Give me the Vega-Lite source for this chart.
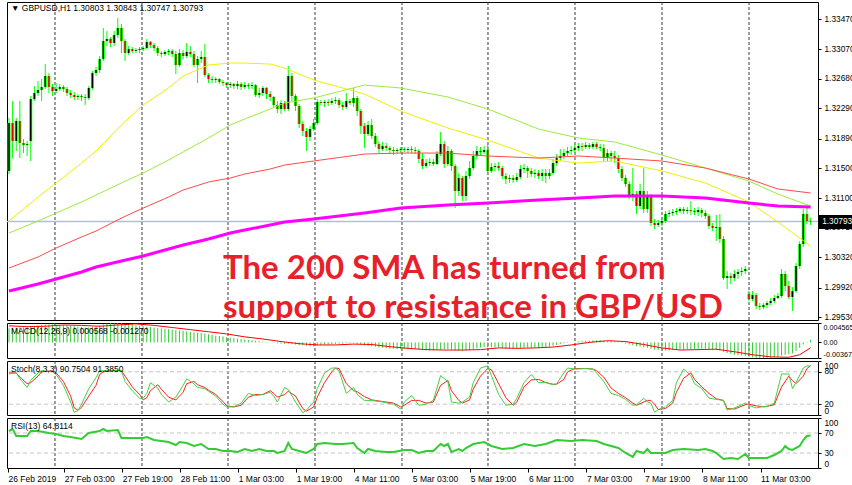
{
"$schema": "https://vega.github.io/schema/vega-lite/v6.json",
"background": "#ffffff",
"padding": {"left": 2, "top": 1, "right": 8, "bottom": 0},
"bounds": "flush",
"spacing": 3,
"resolve": {"scale": {"x": "independent", "y": "independent"}},
"config": {
"view": {"stroke": "#000000", "strokeWidth": 1},
"axis": {"domain": false, "grid": false, "labelFont": "Liberation Sans", "labelFontSize": 8.3, "labelColor": "#000000", "tickColor": "#000000", "tickSize": 3, "labelPadding": 3, "labelOverlap": false},
"text": {"font": "Liberation Sans", "fontSize": 8.5, "color": "#000000"}
},
"datasets": {
"grid": [{"i":12.68},{"i":36.67},{"i":60.38},{"i":84.37},{"i":108.35},{"i":132.06},{"i":156.05},{"i":180.04},{"i":204.03}],
"bars": [
{"i":0,"o":1.31461,"h":1.32161,"l":1.31421,"c":1.32095,"m":0.0033},
{"i":1,"o":1.32095,"h":1.32386,"l":1.31632,"c":1.31857,"m":0.0034},
{"i":2,"o":1.31857,"h":1.32161,"l":1.31725,"c":1.32122,"m":0.0034},
{"i":3,"o":1.32122,"h":1.32386,"l":1.31632,"c":1.31831,"m":0.0035},
{"i":4,"o":1.31831,"h":1.31884,"l":1.31698,"c":1.31804,"m":0.0035},
{"i":5,"o":1.31804,"h":1.31857,"l":1.31659,"c":1.31817,"m":0.0035},
{"i":6,"o":1.31857,"h":1.32452,"l":1.31593,"c":1.32412,"m":0.0037},
{"i":7,"o":1.32412,"h":1.32584,"l":1.32386,"c":1.32492,"m":0.0039},
{"i":8,"o":1.32492,"h":1.32650,"l":1.32452,"c":1.32531,"m":0.0040},
{"i":9,"o":1.32531,"h":1.32677,"l":1.32386,"c":1.32571,"m":0.0041},
{"i":10,"o":1.32571,"h":1.32875,"l":1.32545,"c":1.32716,"m":0.0042},
{"i":11,"o":1.32716,"h":1.32756,"l":1.32492,"c":1.32571,"m":0.0042},
{"i":12,"o":1.32571,"h":1.32611,"l":1.32452,"c":1.32518,"m":0.0042},
{"i":13,"o":1.32518,"h":1.32624,"l":1.32492,"c":1.32545,"m":0.0042},
{"i":14,"o":1.32545,"h":1.32611,"l":1.32518,"c":1.32571,"m":0.0041},
{"i":15,"o":1.32571,"h":1.32597,"l":1.32505,"c":1.32545,"m":0.0041},
{"i":16,"o":1.32545,"h":1.32571,"l":1.32452,"c":1.32492,"m":0.0040},
{"i":17,"o":1.32492,"h":1.32531,"l":1.32426,"c":1.32465,"m":0.0039},
{"i":18,"o":1.32465,"h":1.32505,"l":1.32399,"c":1.32439,"m":0.0038},
{"i":19,"o":1.32439,"h":1.32479,"l":1.32399,"c":1.32452,"m":0.0037},
{"i":20,"o":1.32452,"h":1.32479,"l":1.32386,"c":1.32439,"m":0.0036},
{"i":21,"o":1.32439,"h":1.32479,"l":1.32333,"c":1.32426,"m":0.0035},
{"i":22,"o":1.32426,"h":1.32584,"l":1.32399,"c":1.32558,"m":0.0035},
{"i":23,"o":1.32558,"h":1.32783,"l":1.32531,"c":1.32756,"m":0.0036},
{"i":24,"o":1.32756,"h":1.32835,"l":1.32716,"c":1.32796,"m":0.0038},
{"i":25,"o":1.32796,"h":1.32981,"l":1.32756,"c":1.32941,"m":0.0040},
{"i":26,"o":1.32941,"h":1.33351,"l":1.32915,"c":1.33179,"m":0.0042},
{"i":27,"o":1.33179,"h":1.33311,"l":1.33113,"c":1.33206,"m":0.0044},
{"i":28,"o":1.33206,"h":1.33232,"l":1.33100,"c":1.33153,"m":0.0045},
{"i":29,"o":1.33153,"h":1.33311,"l":1.33113,"c":1.33259,"m":0.0045},
{"i":30,"o":1.33259,"h":1.33483,"l":1.33219,"c":1.33351,"m":0.00456},
{"i":31,"o":1.33351,"h":1.33404,"l":1.33021,"c":1.33179,"m":0.0045},
{"i":32,"o":1.33179,"h":1.33206,"l":1.32915,"c":1.33021,"m":0.0044},
{"i":33,"o":1.33021,"h":1.33113,"l":1.32994,"c":1.33073,"m":0.0043},
{"i":34,"o":1.33073,"h":1.33100,"l":1.33021,"c":1.33047,"m":0.0042},
{"i":35,"o":1.33047,"h":1.33087,"l":1.33021,"c":1.33060,"m":0.0040},
{"i":36,"o":1.33060,"h":1.33100,"l":1.33021,"c":1.33073,"m":0.0039},
{"i":37,"o":1.33073,"h":1.33113,"l":1.33047,"c":1.33087,"m":0.0038},
{"i":38,"o":1.33087,"h":1.33206,"l":1.33073,"c":1.33166,"m":0.0037},
{"i":39,"o":1.33166,"h":1.33179,"l":1.33087,"c":1.33126,"m":0.0036},
{"i":40,"o":1.33126,"h":1.33153,"l":1.33047,"c":1.33087,"m":0.0035},
{"i":41,"o":1.33087,"h":1.33113,"l":1.32981,"c":1.33021,"m":0.0034},
{"i":42,"o":1.33021,"h":1.33047,"l":1.32968,"c":1.33007,"m":0.0033},
{"i":43,"o":1.33007,"h":1.33060,"l":1.32981,"c":1.33034,"m":0.0032},
{"i":44,"o":1.33034,"h":1.33073,"l":1.32994,"c":1.33047,"m":0.0031},
{"i":45,"o":1.33047,"h":1.33073,"l":1.32968,"c":1.33007,"m":0.0030},
{"i":46,"o":1.33007,"h":1.33047,"l":1.32743,"c":1.32862,"m":0.0029},
{"i":47,"o":1.32862,"h":1.33073,"l":1.32835,"c":1.33021,"m":0.0028},
{"i":48,"o":1.33021,"h":1.33060,"l":1.32941,"c":1.32981,"m":0.0027},
{"i":49,"o":1.32981,"h":1.33153,"l":1.32954,"c":1.33034,"m":0.0026},
{"i":50,"o":1.33034,"h":1.33113,"l":1.32968,"c":1.33007,"m":0.0025},
{"i":51,"o":1.33007,"h":1.33047,"l":1.32835,"c":1.32862,"m":0.0024},
{"i":52,"o":1.32862,"h":1.32981,"l":1.32624,"c":1.32941,"m":0.0023},
{"i":53,"o":1.32941,"h":1.33047,"l":1.32888,"c":1.32968,"m":0.0022},
{"i":54,"o":1.32968,"h":1.33140,"l":1.32703,"c":1.32730,"m":0.0021},
{"i":55,"o":1.32730,"h":1.32756,"l":1.32624,"c":1.32677,"m":0.0019},
{"i":56,"o":1.32677,"h":1.32716,"l":1.32624,"c":1.32664,"m":0.0018},
{"i":57,"o":1.32664,"h":1.32703,"l":1.32624,"c":1.32677,"m":0.0016},
{"i":58,"o":1.32677,"h":1.32690,"l":1.32611,"c":1.32637,"m":0.0015},
{"i":59,"o":1.32637,"h":1.32664,"l":1.32584,"c":1.32624,"m":0.0014},
{"i":60,"o":1.32624,"h":1.32637,"l":1.32558,"c":1.32597,"m":0.0012},
{"i":61,"o":1.32597,"h":1.32637,"l":1.32558,"c":1.32611,"m":0.0011},
{"i":62,"o":1.32611,"h":1.32624,"l":1.32545,"c":1.32584,"m":0.0010},
{"i":63,"o":1.32584,"h":1.32650,"l":1.32545,"c":1.32611,"m":0.0009},
{"i":64,"o":1.32611,"h":1.32637,"l":1.32531,"c":1.32571,"m":0.0008},
{"i":65,"o":1.32571,"h":1.32637,"l":1.32545,"c":1.32597,"m":0.0007},
{"i":66,"o":1.32597,"h":1.32624,"l":1.32545,"c":1.32584,"m":0.0006},
{"i":67,"o":1.32584,"h":1.32637,"l":1.32545,"c":1.32597,"m":0.0005},
{"i":68,"o":1.32597,"h":1.32611,"l":1.32439,"c":1.32465,"m":0.0004},
{"i":69,"o":1.32465,"h":1.32558,"l":1.32426,"c":1.32492,"m":0.0003},
{"i":70,"o":1.32492,"h":1.32584,"l":1.32452,"c":1.32558,"m":0.0002},
{"i":71,"o":1.32558,"h":1.32571,"l":1.32412,"c":1.32479,"m":0.0001},
{"i":72,"o":1.32479,"h":1.32518,"l":1.32386,"c":1.32439,"m":0.00002},
{"i":73,"o":1.32439,"h":1.32452,"l":1.32293,"c":1.32333,"m":-0.0001},
{"i":74,"o":1.32333,"h":1.32386,"l":1.32227,"c":1.32280,"m":-0.0002},
{"i":75,"o":1.32280,"h":1.32399,"l":1.32214,"c":1.32360,"m":-0.0003},
{"i":76,"o":1.32360,"h":1.32386,"l":1.32254,"c":1.32280,"m":-0.0004},
{"i":77,"o":1.32280,"h":1.32849,"l":1.32254,"c":1.32716,"m":-0.0003},
{"i":78,"o":1.32716,"h":1.32756,"l":1.32386,"c":1.32452,"m":-0.0004},
{"i":79,"o":1.32452,"h":1.32479,"l":1.32254,"c":1.32320,"m":-0.0005},
{"i":80,"o":1.32320,"h":1.32346,"l":1.32029,"c":1.32082,"m":-0.0006},
{"i":81,"o":1.32082,"h":1.32122,"l":1.31923,"c":1.31989,"m":-0.0007},
{"i":82,"o":1.31989,"h":1.32029,"l":1.31725,"c":1.31910,"m":-0.0008},
{"i":83,"o":1.31910,"h":1.32055,"l":1.31857,"c":1.32016,"m":-0.0009},
{"i":84,"o":1.32016,"h":1.32148,"l":1.31989,"c":1.32095,"m":-0.0009},
{"i":85,"o":1.32095,"h":1.32412,"l":1.32069,"c":1.32373,"m":-0.0007},
{"i":86,"o":1.32373,"h":1.32399,"l":1.32333,"c":1.32360,"m":-0.0006},
{"i":87,"o":1.32360,"h":1.32399,"l":1.32307,"c":1.32373,"m":-0.0005},
{"i":88,"o":1.32373,"h":1.32412,"l":1.32320,"c":1.32360,"m":-0.0005},
{"i":89,"o":1.32360,"h":1.32426,"l":1.32333,"c":1.32386,"m":-0.0004},
{"i":90,"o":1.32386,"h":1.32439,"l":1.32346,"c":1.32399,"m":-0.0004},
{"i":91,"o":1.32399,"h":1.32426,"l":1.32293,"c":1.32333,"m":-0.0003},
{"i":92,"o":1.32333,"h":1.32373,"l":1.32267,"c":1.32307,"m":-0.0003},
{"i":93,"o":1.32307,"h":1.32492,"l":1.32280,"c":1.32386,"m":-0.0002},
{"i":94,"o":1.32386,"h":1.32412,"l":1.32333,"c":1.32360,"m":-0.0002},
{"i":95,"o":1.32360,"h":1.32558,"l":1.32307,"c":1.32426,"m":-0.0001},
{"i":96,"o":1.32426,"h":1.32452,"l":1.32188,"c":1.32254,"m":-0.0003},
{"i":97,"o":1.32254,"h":1.32280,"l":1.31950,"c":1.32055,"m":-0.0005},
{"i":98,"o":1.32055,"h":1.32095,"l":1.31765,"c":1.31950,"m":-0.0007},
{"i":99,"o":1.31950,"h":1.32122,"l":1.31923,"c":1.32069,"m":-0.0008},
{"i":100,"o":1.32069,"h":1.32148,"l":1.31884,"c":1.31923,"m":-0.0009},
{"i":101,"o":1.31923,"h":1.31963,"l":1.31778,"c":1.31817,"m":-0.0010},
{"i":102,"o":1.31817,"h":1.31857,"l":1.31698,"c":1.31751,"m":-0.0012},
{"i":103,"o":1.31751,"h":1.31844,"l":1.31725,"c":1.31791,"m":-0.0013},
{"i":104,"o":1.31791,"h":1.31831,"l":1.31725,"c":1.31765,"m":-0.0014},
{"i":105,"o":1.31765,"h":1.31791,"l":1.31685,"c":1.31738,"m":-0.0015},
{"i":106,"o":1.31738,"h":1.31778,"l":1.31672,"c":1.31725,"m":-0.0015},
{"i":107,"o":1.31725,"h":1.31765,"l":1.31685,"c":1.31738,"m":-0.0016},
{"i":108,"o":1.31738,"h":1.31778,"l":1.31698,"c":1.31751,"m":-0.0016},
{"i":109,"o":1.31751,"h":1.31778,"l":1.31712,"c":1.31738,"m":-0.0016},
{"i":110,"o":1.31738,"h":1.31778,"l":1.31698,"c":1.31751,"m":-0.0016},
{"i":111,"o":1.31751,"h":1.31791,"l":1.31698,"c":1.31738,"m":-0.0016},
{"i":112,"o":1.31738,"h":1.31778,"l":1.31685,"c":1.31725,"m":-0.0016},
{"i":113,"o":1.31725,"h":1.31751,"l":1.31566,"c":1.31619,"m":-0.0017},
{"i":114,"o":1.31619,"h":1.31698,"l":1.31487,"c":1.31527,"m":-0.0018},
{"i":115,"o":1.31527,"h":1.31619,"l":1.31500,"c":1.31566,"m":-0.0019},
{"i":116,"o":1.31566,"h":1.31632,"l":1.31527,"c":1.31580,"m":-0.0019},
{"i":117,"o":1.31580,"h":1.31619,"l":1.31527,"c":1.31553,"m":-0.0019},
{"i":118,"o":1.31553,"h":1.31725,"l":1.31540,"c":1.31685,"m":-0.0018},
{"i":119,"o":1.31685,"h":1.31976,"l":1.31659,"c":1.31817,"m":-0.0017},
{"i":120,"o":1.31817,"h":1.31857,"l":1.31500,"c":1.31553,"m":-0.0016},
{"i":121,"o":1.31553,"h":1.31791,"l":1.31527,"c":1.31725,"m":-0.0016},
{"i":122,"o":1.31725,"h":1.31751,"l":1.31461,"c":1.31527,"m":-0.0017},
{"i":123,"o":1.31527,"h":1.31553,"l":1.30971,"c":1.31196,"m":-0.0019},
{"i":124,"o":1.31196,"h":1.31434,"l":1.31130,"c":1.31368,"m":-0.0020},
{"i":125,"o":1.31368,"h":1.31394,"l":1.31064,"c":1.31130,"m":-0.0021},
{"i":126,"o":1.31130,"h":1.31461,"l":1.31064,"c":1.31394,"m":-0.0019},
{"i":127,"o":1.31394,"h":1.31593,"l":1.31355,"c":1.31500,"m":-0.0018},
{"i":128,"o":1.31500,"h":1.31725,"l":1.31474,"c":1.31659,"m":-0.0016},
{"i":129,"o":1.31659,"h":1.31791,"l":1.31619,"c":1.31725,"m":-0.0014},
{"i":130,"o":1.31725,"h":1.31778,"l":1.31672,"c":1.31712,"m":-0.0012},
{"i":131,"o":1.31712,"h":1.31791,"l":1.31685,"c":1.31738,"m":-0.0011},
{"i":132,"o":1.31738,"h":1.31804,"l":1.31434,"c":1.31461,"m":-0.0012},
{"i":133,"o":1.31461,"h":1.31566,"l":1.31434,"c":1.31513,"m":-0.0012},
{"i":134,"o":1.31513,"h":1.31566,"l":1.31461,"c":1.31527,"m":-0.0012},
{"i":135,"o":1.31527,"h":1.31580,"l":1.31461,"c":1.31500,"m":-0.0012},
{"i":136,"o":1.31500,"h":1.31527,"l":1.31355,"c":1.31394,"m":-0.0013},
{"i":137,"o":1.31394,"h":1.31434,"l":1.31289,"c":1.31355,"m":-0.0014},
{"i":138,"o":1.31355,"h":1.31408,"l":1.31302,"c":1.31368,"m":-0.0014},
{"i":139,"o":1.31368,"h":1.31408,"l":1.31302,"c":1.31342,"m":-0.0014},
{"i":140,"o":1.31342,"h":1.31434,"l":1.31315,"c":1.31381,"m":-0.0014},
{"i":141,"o":1.31381,"h":1.31540,"l":1.31355,"c":1.31487,"m":-0.0013},
{"i":142,"o":1.31487,"h":1.31553,"l":1.31434,"c":1.31500,"m":-0.0012},
{"i":143,"o":1.31500,"h":1.31527,"l":1.31368,"c":1.31461,"m":-0.0012},
{"i":144,"o":1.31461,"h":1.31500,"l":1.31381,"c":1.31421,"m":-0.0012},
{"i":145,"o":1.31421,"h":1.31487,"l":1.31368,"c":1.31434,"m":-0.0012},
{"i":146,"o":1.31434,"h":1.31474,"l":1.31355,"c":1.31394,"m":-0.0012},
{"i":147,"o":1.31394,"h":1.31487,"l":1.31328,"c":1.31434,"m":-0.0011},
{"i":148,"o":1.31434,"h":1.31487,"l":1.31302,"c":1.31394,"m":-0.0011},
{"i":149,"o":1.31394,"h":1.31487,"l":1.31355,"c":1.31434,"m":-0.0010},
{"i":150,"o":1.31434,"h":1.31619,"l":1.31408,"c":1.31566,"m":-0.0008},
{"i":151,"o":1.31566,"h":1.31685,"l":1.31527,"c":1.31632,"m":-0.0006},
{"i":152,"o":1.31632,"h":1.31751,"l":1.31593,"c":1.31659,"m":-0.0004},
{"i":153,"o":1.31659,"h":1.31751,"l":1.31619,"c":1.31698,"m":-0.0002},
{"i":154,"o":1.31698,"h":1.31778,"l":1.31659,"c":1.31725,"m":-0.0001},
{"i":155,"o":1.31725,"h":1.31791,"l":1.31672,"c":1.31738,"m":0.00002},
{"i":156,"o":1.31738,"h":1.31817,"l":1.31698,"c":1.31765,"m":0.0001},
{"i":157,"o":1.31765,"h":1.31831,"l":1.31725,"c":1.31791,"m":0.0002},
{"i":158,"o":1.31791,"h":1.31831,"l":1.31725,"c":1.31778,"m":0.0003},
{"i":159,"o":1.31778,"h":1.31844,"l":1.31751,"c":1.31804,"m":0.0004},
{"i":160,"o":1.31804,"h":1.31831,"l":1.31751,"c":1.31778,"m":0.0004},
{"i":161,"o":1.31778,"h":1.31844,"l":1.31751,"c":1.31817,"m":0.0005},
{"i":162,"o":1.31817,"h":1.31844,"l":1.31751,"c":1.31778,"m":0.0005},
{"i":163,"o":1.31778,"h":1.31817,"l":1.31725,"c":1.31765,"m":0.0005},
{"i":164,"o":1.31765,"h":1.31817,"l":1.31593,"c":1.31632,"m":0.0004},
{"i":165,"o":1.31632,"h":1.31751,"l":1.31593,"c":1.31698,"m":0.0003},
{"i":166,"o":1.31698,"h":1.31725,"l":1.31593,"c":1.31659,"m":0.0003},
{"i":167,"o":1.31659,"h":1.31725,"l":1.31566,"c":1.31632,"m":0.0002},
{"i":168,"o":1.31632,"h":1.31672,"l":1.31434,"c":1.31487,"m":0.0001},
{"i":169,"o":1.31487,"h":1.31527,"l":1.31328,"c":1.31368,"m":-0.0001},
{"i":170,"o":1.31368,"h":1.31408,"l":1.31249,"c":1.31289,"m":-0.0003},
{"i":171,"o":1.31289,"h":1.31328,"l":1.31090,"c":1.31130,"m":-0.0005},
{"i":172,"o":1.31130,"h":1.31500,"l":1.31064,"c":1.31156,"m":-0.0007},
{"i":173,"o":1.31156,"h":1.31196,"l":1.30892,"c":1.30998,"m":-0.0009},
{"i":174,"o":1.30998,"h":1.31289,"l":1.30958,"c":1.31196,"m":-0.0010},
{"i":175,"o":1.31196,"h":1.31500,"l":1.30905,"c":1.30958,"m":-0.0012},
{"i":176,"o":1.30958,"h":1.31196,"l":1.30905,"c":1.31130,"m":-0.0013},
{"i":177,"o":1.31130,"h":1.31156,"l":1.30733,"c":1.30773,"m":-0.0015},
{"i":178,"o":1.30773,"h":1.30826,"l":1.30694,"c":1.30747,"m":-0.0017},
{"i":179,"o":1.30747,"h":1.30813,"l":1.30720,"c":1.30773,"m":-0.0018},
{"i":180,"o":1.30773,"h":1.30852,"l":1.30733,"c":1.30800,"m":-0.0019},
{"i":181,"o":1.30800,"h":1.30932,"l":1.30773,"c":1.30892,"m":-0.0019},
{"i":182,"o":1.30892,"h":1.30945,"l":1.30852,"c":1.30905,"m":-0.0019},
{"i":183,"o":1.30905,"h":1.30958,"l":1.30865,"c":1.30918,"m":-0.0018},
{"i":184,"o":1.30918,"h":1.30971,"l":1.30879,"c":1.30932,"m":-0.0018},
{"i":185,"o":1.30932,"h":1.30985,"l":1.30905,"c":1.30958,"m":-0.0017},
{"i":186,"o":1.30958,"h":1.30985,"l":1.30892,"c":1.30932,"m":-0.0017},
{"i":187,"o":1.30932,"h":1.30985,"l":1.30892,"c":1.30945,"m":-0.0016},
{"i":188,"o":1.30945,"h":1.31064,"l":1.30879,"c":1.30932,"m":-0.0016},
{"i":189,"o":1.30932,"h":1.30971,"l":1.30879,"c":1.30918,"m":-0.0015},
{"i":190,"o":1.30918,"h":1.30985,"l":1.30865,"c":1.30945,"m":-0.0015},
{"i":191,"o":1.30945,"h":1.30971,"l":1.30852,"c":1.30905,"m":-0.0015},
{"i":192,"o":1.30905,"h":1.30945,"l":1.30826,"c":1.30865,"m":-0.0015},
{"i":193,"o":1.30865,"h":1.30892,"l":1.30694,"c":1.30733,"m":-0.0016},
{"i":194,"o":1.30733,"h":1.30773,"l":1.30667,"c":1.30707,"m":-0.0017},
{"i":195,"o":1.30707,"h":1.30879,"l":1.30535,"c":1.30720,"m":-0.0018},
{"i":196,"o":1.30720,"h":1.30892,"l":1.30509,"c":1.30562,"m":-0.0019},
{"i":197,"o":1.30562,"h":1.30601,"l":1.30020,"c":1.30046,"m":-0.0022},
{"i":198,"o":1.30046,"h":1.30138,"l":1.29901,"c":1.30072,"m":-0.0025},
{"i":199,"o":1.30072,"h":1.30112,"l":1.29967,"c":1.30046,"m":-0.0027},
{"i":200,"o":1.30046,"h":1.30152,"l":1.30006,"c":1.30099,"m":-0.0029},
{"i":201,"o":1.30099,"h":1.30165,"l":1.30033,"c":1.30125,"m":-0.0030},
{"i":202,"o":1.30125,"h":1.30191,"l":1.30072,"c":1.30138,"m":-0.0031},
{"i":203,"o":1.30138,"h":1.30205,"l":1.30099,"c":1.30165,"m":-0.0032},
{"i":204,"o":1.29835,"h":1.29874,"l":1.29742,"c":1.29768,"m":-0.0034},
{"i":205,"o":1.29768,"h":1.29874,"l":1.29742,"c":1.29821,"m":-0.0035},
{"i":206,"o":1.29821,"h":1.29848,"l":1.29636,"c":1.29676,"m":-0.0036},
{"i":207,"o":1.29676,"h":1.29716,"l":1.29623,"c":1.29663,"m":-0.00365},
{"i":208,"o":1.29663,"h":1.29716,"l":1.29636,"c":1.29689,"m":-0.003672},
{"i":209,"o":1.29689,"h":1.29742,"l":1.29650,"c":1.29716,"m":-0.00365},
{"i":210,"o":1.29716,"h":1.29782,"l":1.29689,"c":1.29742,"m":-0.0036},
{"i":211,"o":1.29742,"h":1.29821,"l":1.29716,"c":1.29782,"m":-0.0035},
{"i":212,"o":1.29782,"h":1.29848,"l":1.29768,"c":1.29808,"m":-0.0034},
{"i":213,"o":1.29808,"h":1.30165,"l":1.29782,"c":1.30099,"m":-0.0031},
{"i":214,"o":1.30099,"h":1.30138,"l":1.29874,"c":1.29940,"m":-0.0029},
{"i":215,"o":1.29940,"h":1.30006,"l":1.29768,"c":1.29795,"m":-0.0028},
{"i":216,"o":1.29795,"h":1.29927,"l":1.29610,"c":1.29874,"m":-0.0026},
{"i":217,"o":1.29874,"h":1.30244,"l":1.29848,"c":1.30205,"m":-0.0020},
{"i":218,"o":1.30205,"h":1.30535,"l":1.30165,"c":1.30495,"m":-0.0013},
{"i":219,"o":1.30495,"h":1.30958,"l":1.30456,"c":1.30892,"m":-0.0005},
{"i":220,"o":1.30892,"h":1.30971,"l":1.30760,"c":1.30800,"m":0.0001},
{"i":221,"o":1.30803,"h":1.30843,"l":1.30747,"c":1.30793,"m":0.000568}
],
"ma": [
{"i":0,"ma1":1.30800,"ma2":1.30641,"ma3":1.30178,"ma4":1.29874},
{"i":8,"ma1":1.31117,"ma2":1.30800,"ma3":1.30324,"ma4":1.29967},
{"i":13,"ma1":1.31302,"ma2":1.30905,"ma3":1.30443,"ma4":1.30033},
{"i":20,"ma1":1.31566,"ma2":1.31051,"ma3":1.30588,"ma4":1.30125},
{"i":24,"ma1":1.31725,"ma2":1.31143,"ma3":1.30667,"ma4":1.30191},
{"i":31,"ma1":1.32069,"ma2":1.31302,"ma3":1.30839,"ma4":1.30271},
{"i":37,"ma1":1.32333,"ma2":1.31434,"ma3":1.30971,"ma4":1.30337},
{"i":44,"ma1":1.32558,"ma2":1.31606,"ma3":1.31117,"ma4":1.30429},
{"i":48,"ma1":1.32716,"ma2":1.31712,"ma3":1.31209,"ma4":1.30482},
{"i":55,"ma1":1.32862,"ma2":1.31897,"ma3":1.31315,"ma4":1.30562},
{"i":61,"ma1":1.32888,"ma2":1.32069,"ma3":1.31368,"ma4":1.30641},
{"i":65,"ma1":1.32888,"ma2":1.32148,"ma3":1.31421,"ma4":1.30681},
{"i":72,"ma1":1.32875,"ma2":1.32280,"ma3":1.31487,"ma4":1.30747},
{"i":76,"ma1":1.32822,"ma2":1.32360,"ma3":1.31540,"ma4":1.30786},
{"i":84,"ma1":1.32664,"ma2":1.32426,"ma3":1.31593,"ma4":1.30826},
{"i":98,"ma1":1.32479,"ma2":1.32597,"ma3":1.31685,"ma4":1.30905},
{"i":108,"ma1":1.32254,"ma2":1.32558,"ma3":1.31698,"ma4":1.30971},
{"i":121,"ma1":1.32029,"ma2":1.32439,"ma3":1.31698,"ma4":1.31011},
{"i":132,"ma1":1.31870,"ma2":1.32280,"ma3":1.31659,"ma4":1.31037},
{"i":146,"ma1":1.31632,"ma2":1.32016,"ma3":1.31632,"ma4":1.31077},
{"i":157,"ma1":1.31566,"ma2":1.31897,"ma3":1.31659,"ma4":1.31104},
{"i":167,"ma1":1.31593,"ma2":1.31844,"ma3":1.31632,"ma4":1.31130},
{"i":180,"ma1":1.31461,"ma2":1.31672,"ma3":1.31593,"ma4":1.31130},
{"i":192,"ma1":1.31302,"ma2":1.31500,"ma3":1.31500,"ma4":1.31104},
{"i":204,"ma1":1.31051,"ma2":1.31328,"ma3":1.31355,"ma4":1.31037},
{"i":212,"ma1":1.30786,"ma2":1.31156,"ma3":1.31223,"ma4":1.30998},
{"i":221,"ma1":1.30469,"ma2":1.30998,"ma3":1.31170,"ma4":1.30985}
],
"sig": [
{"i":0,"s":0.0039},{"i":5,"s":0.0037},{"i":10,"s":0.0038},{"i":15,"s":0.0041},{"i":20,"s":0.0040},{"i":25,"s":0.0038},{"i":30,"s":0.0041},{"i":35,"s":0.00435},{"i":40,"s":0.0040},{"i":45,"s":0.0035},{"i":50,"s":0.0030},{"i":55,"s":0.0025},{"i":60,"s":0.0020},{"i":65,"s":0.0013},{"i":70,"s":0.0008},{"i":75,"s":0.0002},{"i":80,"s":-0.0003},{"i":85,"s":-0.0006},{"i":90,"s":-0.0006},{"i":95,"s":-0.0004},{"i":100,"s":-0.0005},{"i":105,"s":-0.0010},{"i":110,"s":-0.0014},{"i":115,"s":-0.0017},{"i":120,"s":-0.0018},{"i":125,"s":-0.0018},{"i":130,"s":-0.0017},{"i":135,"s":-0.0013},{"i":140,"s":-0.0014},{"i":145,"s":-0.0013},{"i":150,"s":-0.0011},{"i":155,"s":-0.0006},{"i":160,"s":0.0000},{"i":165,"s":0.0004},{"i":170,"s":0.0002},{"i":175,"s":-0.0005},{"i":180,"s":-0.0013},{"i":185,"s":-0.0018},{"i":190,"s":-0.0017},{"i":195,"s":-0.0016},{"i":200,"s":-0.0022},{"i":205,"s":-0.0029},{"i":210,"s":-0.0034},{"i":215,"s":-0.0035},{"i":218,"s":-0.0029},{"i":221,"s":-0.00127}
],
"sto": [
{"i":0,"k":76,"d":78},{"i":2,"k":78,"d":78},{"i":3,"k":67,"d":70},{"i":5,"k":51,"d":58},{"i":6,"k":64,"d":60},{"i":8,"k":78,"d":72},{"i":9,"k":82,"d":80},{"i":12,"k":80,"d":82},{"i":13,"k":75,"d":78},{"i":15,"k":55,"d":62},{"i":17,"k":24,"d":35},{"i":18,"k":5,"d":13},{"i":19,"k":8,"d":9},{"i":20,"k":20,"d":14},{"i":22,"k":49,"d":35},{"i":24,"k":69,"d":55},{"i":25,"k":82,"d":75},{"i":26,"k":82,"d":80},{"i":28,"k":83,"d":82},{"i":31,"k":82,"d":82},{"i":32,"k":62,"d":72},{"i":34,"k":45,"d":52},{"i":36,"k":31,"d":38},{"i":37,"k":31,"d":28},{"i":38,"k":40,"d":32},{"i":39,"k":60,"d":45},{"i":41,"k":50,"d":56},{"i":42,"k":38,"d":48},{"i":44,"k":24,"d":33},{"i":46,"k":33,"d":28},{"i":48,"k":55,"d":42},{"i":49,"k":67,"d":58},{"i":51,"k":58,"d":62},{"i":52,"k":51,"d":56},{"i":54,"k":49,"d":51},{"i":55,"k":44,"d":46},{"i":57,"k":35,"d":38},{"i":59,"k":20,"d":25},{"i":60,"k":15,"d":17},{"i":62,"k":15,"d":15},{"i":64,"k":22,"d":18},{"i":66,"k":40,"d":33},{"i":68,"k":36,"d":38},{"i":70,"k":38,"d":38},{"i":72,"k":42,"d":45},{"i":73,"k":35,"d":40},{"i":74,"k":24,"d":33},{"i":76,"k":51,"d":38},{"i":77,"k":47,"d":44},{"i":79,"k":24,"d":35},{"i":81,"k":4,"d":12},{"i":82,"k":9,"d":7},{"i":84,"k":24,"d":15},{"i":85,"k":49,"d":33},{"i":87,"k":78,"d":60},{"i":89,"k":87,"d":80},{"i":90,"k":87,"d":87},{"i":91,"k":82,"d":86},{"i":93,"k":40,"d":58},{"i":95,"k":51,"d":45},{"i":96,"k":38,"d":43},{"i":98,"k":27,"d":34},{"i":100,"k":27,"d":28},{"i":103,"k":24,"d":25},{"i":106,"k":20,"d":22},{"i":108,"k":11,"d":15},{"i":109,"k":24,"d":18},{"i":111,"k":36,"d":27},{"i":113,"k":18,"d":27},{"i":115,"k":20,"d":22},{"i":117,"k":27,"d":24},{"i":119,"k":73,"d":55},{"i":121,"k":62,"d":64},{"i":122,"k":24,"d":45},{"i":124,"k":22,"d":27},{"i":125,"k":24,"d":22},{"i":127,"k":33,"d":28},{"i":128,"k":60,"d":48},{"i":130,"k":87,"d":72},{"i":132,"k":91,"d":86},{"i":133,"k":73,"d":84},{"i":135,"k":38,"d":58},{"i":137,"k":18,"d":32},{"i":139,"k":20,"d":18},{"i":140,"k":31,"d":24},{"i":142,"k":60,"d":52},{"i":144,"k":75,"d":65},{"i":146,"k":60,"d":66},{"i":148,"k":60,"d":60},{"i":150,"k":56,"d":57},{"i":151,"k":58,"d":57},{"i":153,"k":78,"d":66},{"i":154,"k":87,"d":80},{"i":156,"k":85,"d":86},{"i":159,"k":86,"d":86},{"i":161,"k":85,"d":85},{"i":162,"k":78,"d":82},{"i":164,"k":62,"d":70},{"i":166,"k":40,"d":50},{"i":168,"k":36,"d":40},{"i":170,"k":29,"d":32},{"i":172,"k":18,"d":22},{"i":173,"k":19,"d":18},{"i":175,"k":31,"d":24},{"i":176,"k":24,"d":27},{"i":177,"k":22,"d":27},{"i":178,"k":5,"d":20},{"i":179,"k":10,"d":10},{"i":181,"k":15,"d":12},{"i":183,"k":27,"d":22},{"i":184,"k":60,"d":42},{"i":186,"k":85,"d":68},{"i":188,"k":73,"d":78},{"i":189,"k":58,"d":66},{"i":191,"k":49,"d":52},{"i":193,"k":31,"d":40},{"i":195,"k":29,"d":30},{"i":197,"k":27,"d":27},{"i":198,"k":9,"d":12},{"i":200,"k":13,"d":11},{"i":203,"k":22,"d":19},{"i":204,"k":18,"d":20},{"i":206,"k":13,"d":17},{"i":208,"k":16,"d":15},{"i":209,"k":16,"d":16},{"i":211,"k":22,"d":19},{"i":213,"k":76,"d":52},{"i":215,"k":76,"d":72},{"i":216,"k":49,"d":64},{"i":217,"k":60,"d":58},{"i":219,"k":87,"d":72},{"i":220,"k":91,"d":86},{"i":221,"k":90.75,"d":91.39}
],
"rsi": [
{"i":0,"v":74},{"i":1,"v":78},{"i":2,"v":64},{"i":5,"v":64},{"i":6,"v":74},{"i":8,"v":74},{"i":11,"v":70},{"i":13,"v":68},{"i":15,"v":64},{"i":17,"v":62},{"i":20,"v":58},{"i":22,"v":70},{"i":25,"v":74},{"i":26,"v":78},{"i":27,"v":74},{"i":30,"v":76},{"i":31,"v":60},{"i":37,"v":60},{"i":38,"v":62},{"i":40,"v":56},{"i":42,"v":54},{"i":44,"v":52},{"i":46,"v":46},{"i":47,"v":52},{"i":49,"v":50},{"i":51,"v":44},{"i":53,"v":48},{"i":55,"v":38},{"i":57,"v":38},{"i":59,"v":34},{"i":61,"v":34},{"i":63,"v":32},{"i":65,"v":38},{"i":67,"v":34},{"i":69,"v":38},{"i":71,"v":34},{"i":73,"v":34},{"i":74,"v":30},{"i":76,"v":34},{"i":77,"v":50},{"i":78,"v":38},{"i":80,"v":34},{"i":82,"v":30},{"i":84,"v":38},{"i":85,"v":48},{"i":87,"v":50},{"i":90,"v":48},{"i":92,"v":48},{"i":95,"v":50},{"i":96,"v":40},{"i":98,"v":30},{"i":99,"v":38},{"i":101,"v":34},{"i":104,"v":32},{"i":106,"v":32},{"i":109,"v":36},{"i":111,"v":36},{"i":113,"v":30},{"i":115,"v":34},{"i":117,"v":34},{"i":119,"v":48},{"i":120,"v":44},{"i":121,"v":48},{"i":122,"v":32},{"i":124,"v":38},{"i":125,"v":34},{"i":126,"v":40},{"i":128,"v":48},{"i":131,"v":52},{"i":133,"v":44},{"i":136,"v":38},{"i":139,"v":40},{"i":142,"v":48},{"i":145,"v":44},{"i":148,"v":48},{"i":151,"v":56},{"i":155,"v":54},{"i":158,"v":56},{"i":162,"v":54},{"i":164,"v":48},{"i":168,"v":40},{"i":170,"v":30},{"i":172,"v":22},{"i":173,"v":34},{"i":175,"v":30},{"i":176,"v":38},{"i":177,"v":30},{"i":179,"v":30},{"i":181,"v":30},{"i":183,"v":36},{"i":186,"v":38},{"i":190,"v":36},{"i":192,"v":38},{"i":194,"v":34},{"i":195,"v":30},{"i":197,"v":18},{"i":199,"v":20},{"i":201,"v":18},{"i":203,"v":28},{"i":204,"v":20},{"i":207,"v":20},{"i":209,"v":20},{"i":211,"v":26},{"i":213,"v":34},{"i":214,"v":44},{"i":215,"v":38},{"i":216,"v":36},{"i":218,"v":44},{"i":219,"v":56},{"i":220,"v":64},{"i":221,"v":64.8}
]
},
"vconcat": [
{
"width": 811, "height": 318,
"layer": [
{"data": {"name": "grid"}, "mark": {"type": "rule", "color": "#3a3a3a", "strokeDash": [3, 2], "strokeWidth": 1},
 "encoding": {"x": {"field": "i", "type": "quantitative", "scale": {"domain": [-0.55, 223.05], "nice": false, "zero": false, "padding": 0}, "axis": null}}},
{"data": {"values": [{}]}, "mark": {"type": "rule", "color": "#B4BECE", "strokeWidth": 1.5},
 "encoding": {"y": {"datum": 1.30793, "type": "quantitative", "scale": {"domain": [1.29491, 1.33695], "nice": false, "zero": false, "padding": 0},
   "axis": {"orient": "right", "title": null, "values": [1.3347, 1.3307, 1.3268, 1.3229, 1.3189, 1.315, 1.311, 1.3071, 1.3032, 1.2992, 1.2953], "tickCount": 40, "format": ".5f", "labelOverlap": false}}}},
{"data": {"name": "bars"}, "mark": {"type": "rule", "color": "#00FF00", "strokeWidth": 1},
 "encoding": {"x": {"field": "i", "type": "quantitative", "scale": {"domain": [-0.55, 223.05], "nice": false, "zero": false, "padding": 0}, "axis": null},
  "y": {"field": "l", "type": "quantitative", "scale": {"domain": [1.29491, 1.33695], "nice": false, "zero": false, "padding": 0},
   "axis": {"orient": "right", "title": null, "values": [1.3347, 1.3307, 1.3268, 1.3229, 1.3189, 1.315, 1.311, 1.3071, 1.3032, 1.2992, 1.2953], "tickCount": 40, "format": ".5f", "labelOverlap": false}},
  "y2": {"field": "h"}}},
{"data": {"name": "bars"}, "mark": {"type": "bar", "size": 3, "color": "#00FF00"},
 "encoding": {"x": {"field": "i", "type": "quantitative", "scale": {"domain": [-0.55, 223.05], "nice": false, "zero": false, "padding": 0}, "axis": null},
  "y": {"field": "o", "type": "quantitative", "scale": {"domain": [1.29491, 1.33695], "nice": false, "zero": false, "padding": 0}},
  "y2": {"field": "c"}}},
{"data": {"name": "bars"}, "mark": {"type": "bar", "size": 1.4},
 "encoding": {"x": {"field": "i", "type": "quantitative", "scale": {"domain": [-0.55, 223.05], "nice": false, "zero": false, "padding": 0}, "axis": null},
  "y": {"field": "o", "type": "quantitative", "scale": {"domain": [1.29491, 1.33695], "nice": false, "zero": false, "padding": 0}},
  "y2": {"field": "c"},
  "color": {"condition": {"test": "datum.c > datum.o", "value": "#000000"}, "value": "#E00000"}}},
{"data": {"name": "ma"}, "mark": {"type": "line", "color": "#F2EE00", "strokeWidth": 1},
 "encoding": {"x": {"field": "i", "type": "quantitative", "scale": {"domain": [-0.55, 223.05], "nice": false, "zero": false, "padding": 0}, "axis": null},
  "y": {"field": "ma1", "type": "quantitative", "scale": {"domain": [1.29491, 1.33695], "nice": false, "zero": false, "padding": 0}}}},
{"data": {"name": "ma"}, "mark": {"type": "line", "color": "#9DEB3C", "strokeWidth": 1},
 "encoding": {"x": {"field": "i", "type": "quantitative", "scale": {"domain": [-0.55, 223.05], "nice": false, "zero": false, "padding": 0}, "axis": null},
  "y": {"field": "ma2", "type": "quantitative", "scale": {"domain": [1.29491, 1.33695], "nice": false, "zero": false, "padding": 0}}}},
{"data": {"name": "ma"}, "mark": {"type": "line", "color": "#FF4A4A", "strokeWidth": 1},
 "encoding": {"x": {"field": "i", "type": "quantitative", "scale": {"domain": [-0.55, 223.05], "nice": false, "zero": false, "padding": 0}, "axis": null},
  "y": {"field": "ma3", "type": "quantitative", "scale": {"domain": [1.29491, 1.33695], "nice": false, "zero": false, "padding": 0}}}},
{"data": {"name": "ma"}, "mark": {"type": "line", "color": "#FF00FF", "strokeWidth": 3},
 "encoding": {"x": {"field": "i", "type": "quantitative", "scale": {"domain": [-0.55, 223.05], "nice": false, "zero": false, "padding": 0}, "axis": null},
  "y": {"field": "ma4", "type": "quantitative", "scale": {"domain": [1.29491, 1.33695], "nice": false, "zero": false, "padding": 0}}}},
{"data": {"values": [{}]}, "mark": {"type": "text", "align": "left", "baseline": "middle"},
 "encoding": {"x": {"datum": 0.55, "type": "quantitative", "scale": {"domain": [-0.55, 223.05], "nice": false, "zero": false, "padding": 0}, "axis": null},
  "y": {"datum": 1.33615, "type": "quantitative", "scale": {"domain": [1.29491, 1.33695], "nice": false, "zero": false, "padding": 0}},
  "text": {"value": "▼ GBPUSD,H1  1.30803 1.30843 1.30747 1.30793"}}},
{"data": {"values": [{}]}, "mark": {"type": "text", "align": "left", "baseline": "alphabetic", "font": "Lato", "fontWeight": "bold", "fontSize": 33, "color": "#E8202A", "clip": true},
 "encoding": {"x": {"datum": 59, "type": "quantitative", "scale": {"domain": [-0.55, 223.05], "nice": false, "zero": false, "padding": 0}, "axis": null},
  "y": {"datum": 1.30033, "type": "quantitative", "scale": {"domain": [1.29491, 1.33695], "nice": false, "zero": false, "padding": 0}},
  "text": {"value": "The 200 SMA has turned from"}}},
{"data": {"values": [{}]}, "mark": {"type": "text", "align": "left", "baseline": "alphabetic", "font": "Lato", "fontWeight": "bold", "fontSize": 33, "color": "#E8202A", "clip": true},
 "encoding": {"x": {"datum": 59, "type": "quantitative", "scale": {"domain": [-0.55, 223.05], "nice": false, "zero": false, "padding": 0}, "axis": null},
  "y": {"datum": 1.29517, "type": "quantitative", "scale": {"domain": [1.29491, 1.33695], "nice": false, "zero": false, "padding": 0}},
  "text": {"value": "support to resistance in GBP/USD"}}},
{"data": {"values": [{}]}, "mark": {"type": "rect", "color": "#000000"},
 "encoding": {"x": {"datum": 223.1, "type": "quantitative", "scale": {"domain": [-0.55, 223.05], "nice": false, "zero": false, "padding": 0}, "axis": null},
  "x2": {"datum": 233.8},
  "y": {"datum": 1.30879, "type": "quantitative", "scale": {"domain": [1.29491, 1.33695], "nice": false, "zero": false, "padding": 0}},
  "y2": {"datum": 1.30694}}},
{"data": {"values": [{}]}, "mark": {"type": "text", "align": "left", "baseline": "middle", "color": "#FFFFFF", "fontSize": 8.3},
 "encoding": {"x": {"datum": 224.2, "type": "quantitative", "scale": {"domain": [-0.55, 223.05], "nice": false, "zero": false, "padding": 0}, "axis": null},
  "y": {"datum": 1.30793, "type": "quantitative", "scale": {"domain": [1.29491, 1.33695], "nice": false, "zero": false, "padding": 0}},
  "text": {"value": "1.30793"}}}
]
},
{
"width": 811, "height": 35,
"layer": [
{"data": {"name": "grid"}, "mark": {"type": "rule", "color": "#3a3a3a", "strokeDash": [3, 2], "strokeWidth": 1},
 "encoding": {"x": {"field": "i", "type": "quantitative", "scale": {"domain": [-0.55, 223.05], "nice": false, "zero": false, "padding": 0}, "axis": null}}},
{"data": {"name": "bars"}, "mark": {"type": "rule", "color": "#33CC33", "strokeWidth": 1},
 "encoding": {"x": {"field": "i", "type": "quantitative", "scale": {"domain": [-0.55, 223.05], "nice": false, "zero": false, "padding": 0}, "axis": null},
  "y": {"field": "m", "type": "quantitative", "scale": {"domain": [-0.003672, 0.004565], "nice": false, "zero": false, "padding": 0},
   "axis": {"orient": "right", "title": null, "values": [0.004565, 0, -0.003672], "tickCount": 40, "labelFlush": true, "labelOverlap": false, "labelFontSize": 7.2, "labelPadding": 2,
    "labelExpr": "datum.value == 0 ? '0.00' : (datum.value < 0 ? '-' + format(-datum.value, '.6f') : format(datum.value, '.6f'))"}},
  "y2": {"datum": 0}}},
{"data": {"name": "sig"}, "mark": {"type": "line", "color": "#FF0000", "strokeWidth": 1},
 "encoding": {"x": {"field": "i", "type": "quantitative", "scale": {"domain": [-0.55, 223.05], "nice": false, "zero": false, "padding": 0}, "axis": null},
  "y": {"field": "s", "type": "quantitative", "scale": {"domain": [-0.003672, 0.004565], "nice": false, "zero": false, "padding": 0}}}},
{"data": {"values": [{}]}, "mark": {"type": "text", "align": "left", "baseline": "middle"},
 "encoding": {"x": {"datum": 0.55, "type": "quantitative", "scale": {"domain": [-0.55, 223.05], "nice": false, "zero": false, "padding": 0}, "axis": null},
  "y": {"datum": 0.00268, "type": "quantitative", "scale": {"domain": [-0.003672, 0.004565], "nice": false, "zero": false, "padding": 0}},
  "text": {"value": "MACD(12,26,9) 0.000568 -0.001270"}}}
]
},
{
"width": 811, "height": 54,
"layer": [
{"data": {"name": "grid"}, "mark": {"type": "rule", "color": "#3a3a3a", "strokeDash": [3, 2], "strokeWidth": 1},
 "encoding": {"x": {"field": "i", "type": "quantitative", "scale": {"domain": [-0.55, 223.05], "nice": false, "zero": false, "padding": 0}, "axis": null}}},
{"data": {"values": [{"lv": 20}, {"lv": 80}]}, "mark": {"type": "rule", "color": "#C4C4C4", "strokeDash": [4, 3], "strokeWidth": 1},
 "encoding": {"y": {"field": "lv", "type": "quantitative", "scale": {"domain": [0, 100], "nice": false, "zero": false, "padding": 0},
   "axis": {"orient": "right", "title": null, "values": [100, 80, 20, 0], "tickCount": 40, "labelFlush": true, "labelOverlap": false, "format": "d"}}}},
{"data": {"name": "sto"}, "mark": {"type": "line", "color": "#FF2020", "strokeWidth": 1},
 "encoding": {"x": {"field": "i", "type": "quantitative", "scale": {"domain": [-0.55, 223.05], "nice": false, "zero": false, "padding": 0}, "axis": null},
  "y": {"field": "d", "type": "quantitative", "scale": {"domain": [0, 100], "nice": false, "zero": false, "padding": 0}}}},
{"data": {"name": "sto"}, "mark": {"type": "line", "color": "#44D044", "strokeWidth": 1},
 "encoding": {"x": {"field": "i", "type": "quantitative", "scale": {"domain": [-0.55, 223.05], "nice": false, "zero": false, "padding": 0}, "axis": null},
  "y": {"field": "k", "type": "quantitative", "scale": {"domain": [0, 100], "nice": false, "zero": false, "padding": 0}}}},
{"data": {"values": [{}]}, "mark": {"type": "text", "align": "left", "baseline": "middle"},
 "encoding": {"x": {"datum": 0.55, "type": "quantitative", "scale": {"domain": [-0.55, 223.05], "nice": false, "zero": false, "padding": 0}, "axis": null},
  "y": {"datum": 85, "type": "quantitative", "scale": {"domain": [0, 100], "nice": false, "zero": false, "padding": 0}},
  "text": {"value": "Stoch(8,3,3) 90.7504 91.3850"}}}
]
},
{
"width": 811, "height": 50,
"layer": [
{"data": {"name": "grid"}, "mark": {"type": "rule", "color": "#3a3a3a", "strokeDash": [3, 2], "strokeWidth": 1},
 "encoding": {"x": {"field": "i", "type": "quantitative", "scale": {"domain": [-0.55, 223.05], "nice": false, "zero": false, "padding": 0}}}},
{"data": {"values": [{"lv": 30}, {"lv": 70}]}, "mark": {"type": "rule", "color": "#C4C4C4", "strokeDash": [4, 3], "strokeWidth": 1},
 "encoding": {"y": {"field": "lv", "type": "quantitative", "scale": {"domain": [0, 100], "nice": false, "zero": false, "padding": 0},
   "axis": {"orient": "right", "title": null, "values": [100, 70, 30, 0], "tickCount": 40, "labelFlush": true, "labelOverlap": false, "format": "d"}}}},
{"data": {"name": "rsi"}, "mark": {"type": "line", "color": "#33CC33", "strokeWidth": 2},
 "encoding": {"x": {"field": "i", "type": "quantitative", "scale": {"domain": [-0.55, 223.05], "nice": false, "zero": false, "padding": 0},
   "axis": {"orient": "bottom", "title": null, "values": [-0.28, 15.2, 31.2, 47.2, 63.2, 79.2, 95.2, 111.2, 127.2, 143.2, 159.2, 175.2, 191.2, 207.2], "tickCount": 40,
    "labelExpr": "['26 Feb 2019','27 Feb 03:00','27 Feb 19:00','28 Feb 11:00','1 Mar 03:00','1 Mar 19:00','4 Mar 11:00','5 Mar 03:00','5 Mar 19:00','6 Mar 11:00','7 Mar 03:00','7 Mar 19:00','8 Mar 11:00','11 Mar 03:00'][round((datum.value-15.2)/16)+1]",
    "labelAlign": "left", "labelFlush": false, "labelOverlap": false, "labelFontSize": 8.5, "tickSize": 4, "labelPadding": 2, "labelBaseline": "top"}},
  "y": {"field": "v", "type": "quantitative", "scale": {"domain": [0, 100], "nice": false, "zero": false, "padding": 0}}}},
{"data": {"values": [{}]}, "mark": {"type": "text", "align": "left", "baseline": "middle"},
 "encoding": {"x": {"datum": 0.55, "type": "quantitative", "scale": {"domain": [-0.55, 223.05], "nice": false, "zero": false, "padding": 0}},
  "y": {"datum": 84, "type": "quantitative", "scale": {"domain": [0, 100], "nice": false, "zero": false, "padding": 0}},
  "text": {"value": "RSI(13) 64.8114"}}}
]
}
]
}
